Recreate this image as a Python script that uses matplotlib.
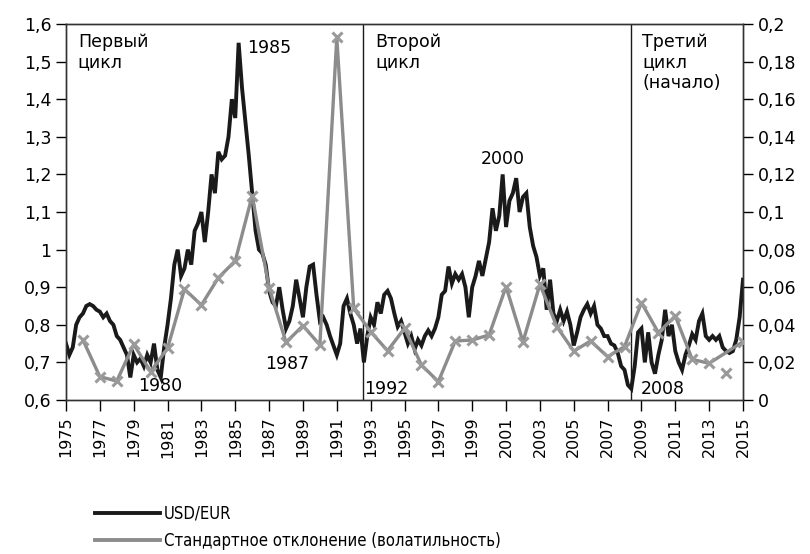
import matplotlib

matplotlib.use("Agg")

import matplotlib.pyplot as plt
from matplotlib.ticker import FixedLocator, FuncFormatter, MultipleLocator
import numpy as np

# USD/EUR rate, 5 points per year (1975.0 .. 2015.0)
RATE_START = 1975.0
RATE_STEP = 0.2
USD_EUR = [
    0.75, 0.72, 0.74, 0.80, 0.82,      # 1975
    0.83, 0.85, 0.855, 0.85, 0.84,     # 1976
    0.835, 0.82, 0.83, 0.81, 0.80,     # 1977
    0.77, 0.76, 0.74, 0.72, 0.66,      # 1978
    0.72, 0.70, 0.71, 0.69, 0.72,      # 1979
    0.70, 0.75, 0.68, 0.66, 0.74,      # 1980
    0.80, 0.87, 0.96, 1.00, 0.93,      # 1981
    0.95, 1.00, 0.96, 1.05, 1.07,      # 1982
    1.10, 1.02, 1.10, 1.20, 1.15,      # 1983
    1.26, 1.24, 1.25, 1.30, 1.40,      # 1984
    1.35, 1.55, 1.43, 1.34, 1.25,      # 1985
    1.15, 1.05, 1.00, 0.99, 0.96,      # 1986
    0.89, 0.86, 0.85, 0.90, 0.84,      # 1987
    0.79, 0.81, 0.85, 0.92, 0.87,      # 1988
    0.82, 0.90, 0.955, 0.96, 0.88,     # 1989
    0.81, 0.82, 0.80, 0.77, 0.745,     # 1990
    0.72, 0.75, 0.85, 0.87, 0.83,      # 1991
    0.80, 0.75, 0.79, 0.70, 0.77,      # 1992
    0.82, 0.80, 0.86, 0.83, 0.88,      # 1993
    0.89, 0.87, 0.83, 0.795, 0.81,     # 1994
    0.78, 0.75, 0.77, 0.735, 0.76,     # 1995
    0.745, 0.77, 0.785, 0.77, 0.79,    # 1996
    0.82, 0.88, 0.89, 0.955, 0.91,     # 1997
    0.935, 0.92, 0.935, 0.90, 0.82,    # 1998
    0.90, 0.93, 0.97, 0.93, 0.975,     # 1999
    1.02, 1.11, 1.05, 1.09, 1.20,      # 2000
    1.06, 1.13, 1.15, 1.19, 1.10,      # 2001
    1.14, 1.15, 1.06, 1.01, 0.98,      # 2002
    0.93, 0.95, 0.84, 0.92, 0.83,      # 2003
    0.81, 0.84, 0.81, 0.835, 0.80,     # 2004
    0.745, 0.78, 0.82, 0.84, 0.855,    # 2005
    0.83, 0.85, 0.80, 0.79, 0.77,      # 2006
    0.77, 0.75, 0.745, 0.725, 0.69,    # 2007
    0.68, 0.64, 0.63, 0.69, 0.78,      # 2008
    0.79, 0.70, 0.78, 0.70, 0.67,      # 2009
    0.72, 0.76, 0.84, 0.77, 0.80,      # 2010
    0.73, 0.70, 0.68, 0.72, 0.745,     # 2011
    0.775, 0.76, 0.81, 0.83, 0.77,     # 2012
    0.76, 0.77, 0.76, 0.77, 0.74,      # 2013
    0.73, 0.725, 0.73, 0.76, 0.82,     # 2014
    0.92,                              # 2015
]

# annual volatility (right axis)
VOL_YEARS = list(range(1976, 2016))
VOLATILITY = [
    0.032, 0.0124, 0.0101, 0.0296, 0.0151, 0.0275, 0.059, 0.0505, 0.065, 0.074,
    0.1087, 0.0597, 0.0307, 0.0395, 0.0293, 0.193, 0.0488, 0.0363, 0.0262, 0.0381,
    0.0186, 0.0098, 0.0314, 0.0319, 0.0346, 0.0603, 0.031, 0.0615, 0.039, 0.026,
    0.0314, 0.023, 0.0284, 0.0518, 0.0358, 0.0447, 0.0216, 0.0195, 0.0142, 0.031,
]
VOL_UNLINKED = [2014]  # drawn as a lone marker in the original

YEAR_TICKS = list(range(1975, 2016, 2))

CYCLE_BREAKS = [1992.55, 2008.4]
CYCLE_LABELS = [
    (1975.7, "Первый\nцикл"),
    (1993.25, "Второй\nцикл"),
    (2009.05, "Третий\nцикл\n(начало)"),
]
YEAR_NOTES = [
    (1985.7, 1.535, "1985"),
    (1979.25, 0.637, "1980"),
    (1986.75, 0.697, "1987"),
    (1992.6, 0.63, "1992"),
    (1999.5, 1.24, "2000"),
    (2008.95, 0.63, "2008"),
]

BLACK = "#1a1a1a"
GREY = "#8c8c8c"


def comma(value, _pos):
    if abs(value) < 1e-9:
        return "0"
    text = f"{value:.2f}".rstrip("0").rstrip(".")
    return text.replace(".", ",")


plt.rcParams.update({
    "font.family": "DejaVu Sans",
    "font.size": 12,
    "axes.linewidth": 1.0,
    "axes.edgecolor": "#333333",
})

fig = plt.figure(figsize=(8.1, 5.54), dpi=100)
ax = fig.add_axes([66 / 810, 1 - 400 / 554, (743 - 66) / 810, (400 - 24) / 554])
ax2 = ax.twinx()

years = RATE_START + RATE_STEP * np.arange(len(USD_EUR))
ax.plot(years, USD_EUR, color=BLACK, lw=2.8, solid_joinstyle="miter", zorder=3)

vy = np.array(VOL_YEARS, dtype=float)
vv = np.array(VOLATILITY)
linked = ~np.isin(vy, VOL_UNLINKED)
ax2.plot(vy[linked], vv[linked], color=GREY, lw=2.4, zorder=4)
ax2.plot(vy, vv, ls="none", marker="x", ms=7, mew=2.2, color="#9a9a9a", zorder=5)

for xb in CYCLE_BREAKS:
    ax.axvline(xb, color=BLACK, lw=1.0, zorder=2)

for x, label in CYCLE_LABELS:
    ax.text(x, 1.575, label, ha="left", va="top", fontsize=12.5, linespacing=1.15)
for x, y, label in YEAR_NOTES:
    ax.text(x, y, label, ha="left", va="center", fontsize=12.5, zorder=6)

ax.set_xlim(1975, 2015)
ax.set_ylim(0.6, 1.6)
ax2.set_ylim(0, 0.2)
ax.xaxis.set_major_locator(FixedLocator(YEAR_TICKS))
ax.yaxis.set_major_locator(MultipleLocator(0.1))
ax2.yaxis.set_major_locator(MultipleLocator(0.02))
ax.yaxis.set_major_formatter(FuncFormatter(comma))
ax2.yaxis.set_major_formatter(FuncFormatter(comma))
ax.tick_params(axis="x", labelrotation=90, length=8, width=1.0, direction="out", labelsize=11.5, pad=4)
ax.tick_params(axis="y", length=7, width=1.0, direction="out", labelsize=12.5)
ax2.tick_params(axis="y", length=7, width=1.0, direction="out", labelsize=12.5)

handles = [
    plt.Line2D([], [], color=BLACK, lw=2.8),
    plt.Line2D([], [], color=GREY, lw=2.8),
]
fig.legend(
    handles,
    ["USD/EUR", "Стандартное отклонение (волатильность)"],
    loc="lower left",
    bbox_to_anchor=(80 / 810, -0.02),
    frameon=False,
    handlelength=3.9,
    handletextpad=0.25,
    labelspacing=0.55,
    prop={"family": "DejaVu Sans", "stretch": "condensed", "size": 12},
)

fig.savefig("out.png", dpi=100)
